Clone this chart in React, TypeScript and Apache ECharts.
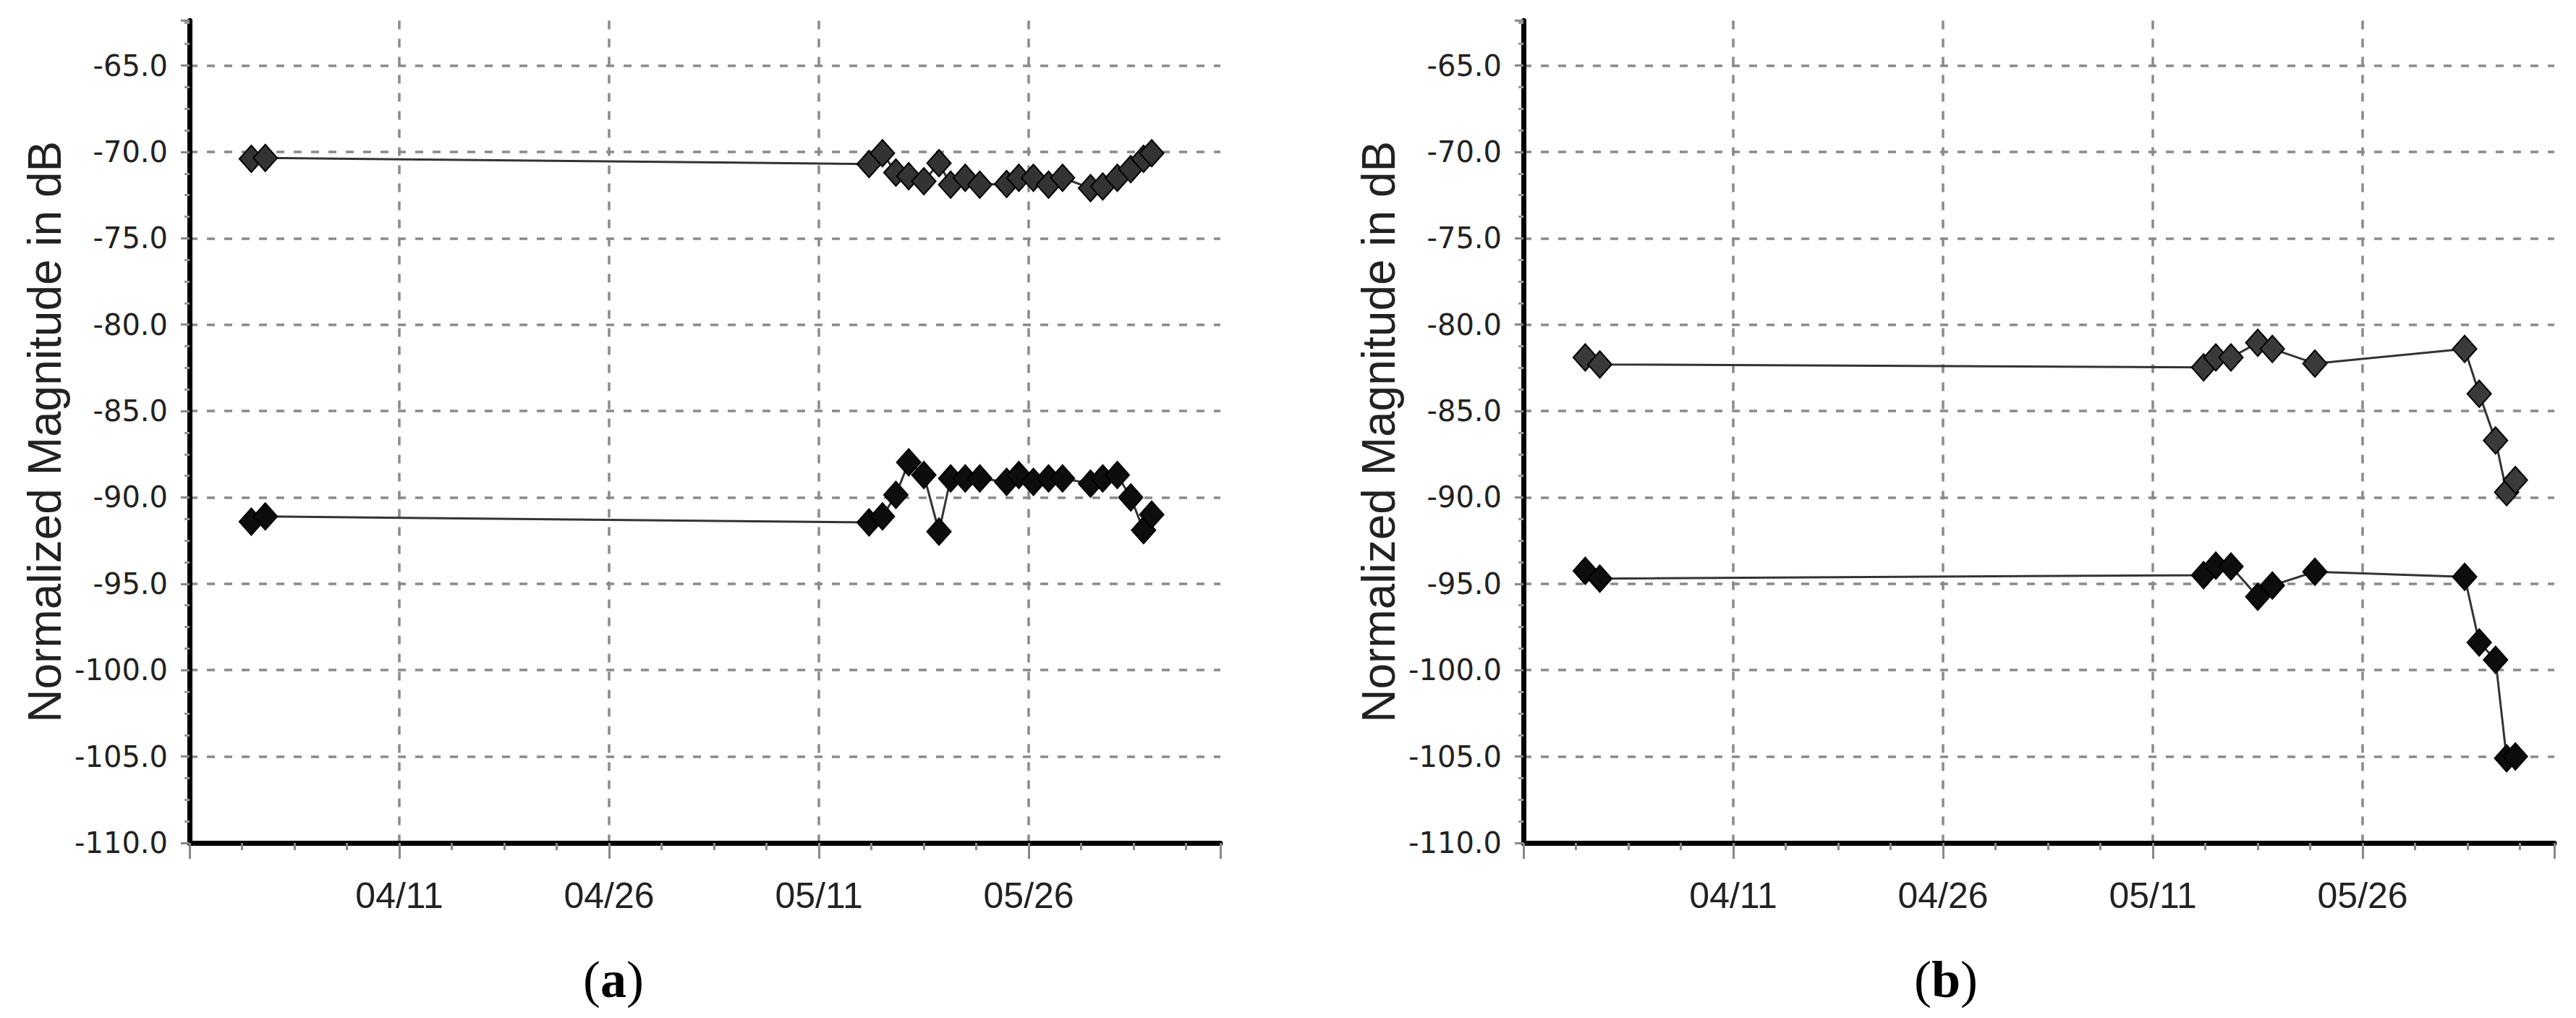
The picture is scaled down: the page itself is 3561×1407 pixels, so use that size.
import React, { useEffect, useRef } from 'react';
import * as echarts from 'echarts';

// ---------- data ----------
const datesA = [
  '03-31 10:00', '04-01 10:00', '05-14 14:00', '05-15 13:00', '05-16 12:00', '05-17 10:00',
  '05-18 12:00', '05-19 14:00', '05-20 10:00', '05-21 11:00', '05-22 12:00', '05-24 10:00',
  '05-25 07:00', '05-26 08:00', '05-27 10:00', '05-28 10:00', '05-30 10:00', '05-31 07:00',
  '06-01 08:00', '06-02 07:00', '06-03 05:00', '06-03 19:00',
];
const upperA = [
  -70.4, -70.35, -70.7, -70.07, -71.2, -71.4, -71.7, -70.65, -71.9, -71.5, -71.9, -71.85,
  -71.5, -71.5, -71.9, -71.5, -72.1, -72.0, -71.5, -71.0, -70.4, -70.07,
];
const lowerA = [
  -91.4, -91.1, -91.45, -91.1, -89.85, -87.97, -88.7, -91.98, -88.9, -88.9, -88.9, -89.1,
  -88.7, -89.1, -88.9, -88.9, -89.2, -88.9, -88.7, -90.0, -91.9, -91.0,
];

const datesB = [
  '03-31 10:00', '04-01 11:00', '05-14 15:00', '05-15 12:00', '05-16 14:00', '05-18 12:00',
  '05-19 13:00', '05-22 14:00', '06-02 07:00', '06-03 08:00', '06-04 12:00', '06-05 07:00',
  '06-05 22:00',
];
const upperB = [-81.9, -82.3, -82.47, -81.9, -81.9, -81.05, -81.4, -82.25, -81.4, -84.0, -86.7, -89.7, -89.0];
const lowerB = [-94.25, -94.7, -94.5, -93.95, -94.0, -95.75, -95.1, -94.3, -94.6, -98.4, -99.4, -105.1, -105.0];

const xTickLabels = ['04/11', '04/26', '05/11', '05/26'];
const yAxisTitle = 'Normalized Magnitude in dB';
const panelLabels = ['a', 'b'];

// ---------- helpers ----------
const ORIGIN = Date.UTC(2016, 3, 11);
function dayOffset(s: string): number {
  const [md, hm] = s.split(' ');
  const [m, d] = md.split('-').map(Number);
  const [h, mi] = hm.split(':').map(Number);
  return (Date.UTC(2016, m - 1, d, h, mi) - ORIGIN) / 86400000;
}
const toPts = (dates: string[], vals: number[]) => dates.map((d, i) => [dayOffset(d), vals[i]]);

const GRID_LEFT = [262, 2106];
const GRID_W = 1425;
const GRID_TOP = 28.5;
const GRID_H = 1136.5;
const GRID_COLOR = '#8a8a8a';

function makeX(idx: number) {
  return {
    type: 'value',
    gridIndex: idx,
    min: -15,
    max: 58.7,
    interval: 15,
    axisLine: { show: true, onZero: false, lineStyle: { color: '#000', width: 7 } },
    axisTick: { show: true, length: 22, lineStyle: { color: '#888', width: 3 } },
    minorTick: { show: true, splitNumber: 4, length: 10, lineStyle: { color: '#888', width: 3 } },
    splitLine: {
      show: true,
      showMinLine: false,
      showMaxLine: false,
      lineStyle: { color: GRID_COLOR, width: 3.5, type: [12, 13] },
    },
    axisLabel: {
      margin: 48,
      fontFamily: 'Liberation Sans',
      fontSize: 50,
      color: '#222',
      showMinLabel: false,
      showMaxLabel: false,
      formatter: (v: number) => {
        const k = Math.round(v / 15);
        if (Math.abs(v - k * 15) > 1e-6 || k < 0) return '';
        return xTickLabels[k] ?? '';
      },
    },
  };
}

function makeY(idx: number) {
  return {
    type: 'value',
    gridIndex: idx,
    min: -110,
    max: -62.4,
    interval: 5,
    name: yAxisTitle,
    nameLocation: 'middle',
    nameGap: 168,
    nameTextStyle: { fontFamily: 'Liberation Sans', fontSize: 64, color: '#222' },
    axisLine: { show: true, onZero: false, lineStyle: { color: '#000', width: 7 } },
    axisTick: { show: true, length: 12, lineStyle: { color: '#888', width: 3 } },
    minorTick: { show: true, splitNumber: 4, length: 7, lineStyle: { color: '#999', width: 3 } },
    splitLine: {
      show: true,
      showMinLine: false,
      showMaxLine: false,
      lineStyle: { color: GRID_COLOR, width: 3.5, type: [11, 13] },
    },
    axisLabel: {
      margin: 30,
      fontFamily: 'DejaVu Sans',
      fontSize: 40,
      color: '#222',
      showMaxLabel: false,
      formatter: (v: number) => {
        const k = Math.round(v / 5);
        if (Math.abs(v - k * 5) > 1e-6) return '';
        return v.toFixed(1);
      },
    },
  };
}

function makeSeries(idx: number, data: number[][], fill: string) {
  return {
    type: 'line',
    xAxisIndex: idx,
    yAxisIndex: idx,
    data,
    symbol: 'diamond',
    symbolSize: [33, 37],
    showAllSymbol: true,
    lineStyle: { color: '#333', width: 3 },
    itemStyle: { color: fill, borderColor: '#000', borderWidth: 2 },
    emphasis: { disabled: true },
    z: 5,
  };
}

export default function App() {
  const ref = useRef<HTMLDivElement>(null);
  useEffect(() => {
    if (!ref.current) return;
    const chart = echarts.init(ref.current, undefined, { renderer: 'svg' });
    chart.setOption({
      animation: false,
      backgroundColor: '#fff',
      grid: GRID_LEFT.map((l) => ({ left: l, top: GRID_TOP, width: GRID_W, height: GRID_H, containLabel: false })),
      xAxis: [makeX(0), makeX(1)],
      yAxis: [makeY(0), makeY(1)],
      series: [
        makeSeries(0, toPts(datesA, upperA), '#333333'),
        makeSeries(0, toPts(datesA, lowerA), '#0d0d0d'),
        makeSeries(1, toPts(datesB, upperB), '#3a3a3a'),
        makeSeries(1, toPts(datesB, lowerB), '#0d0d0d'),
      ],
      graphic: panelLabels.map((p, i) => ({
        type: 'text',
        x: [848, 2690][i],
        y: 1354,
        style: {
          text: '{n|(}{b|' + p + '}{n|)}',
          align: 'center',
          verticalAlign: 'middle',
          rich: {
            n: { fontFamily: 'Liberation Serif', fontSize: 72, fill: '#000' },
            b: { fontFamily: 'Liberation Serif', fontSize: 72, fontWeight: 'bold', fill: '#000' },
          },
        },
      })),
    });
    return () => chart.dispose();
  }, []);
  return (
    <div
      ref={ref}
      style={{ position: 'absolute', left: 0, top: 0, width: 3561, height: 1407, background: '#fff' }}
    />
  );
}
